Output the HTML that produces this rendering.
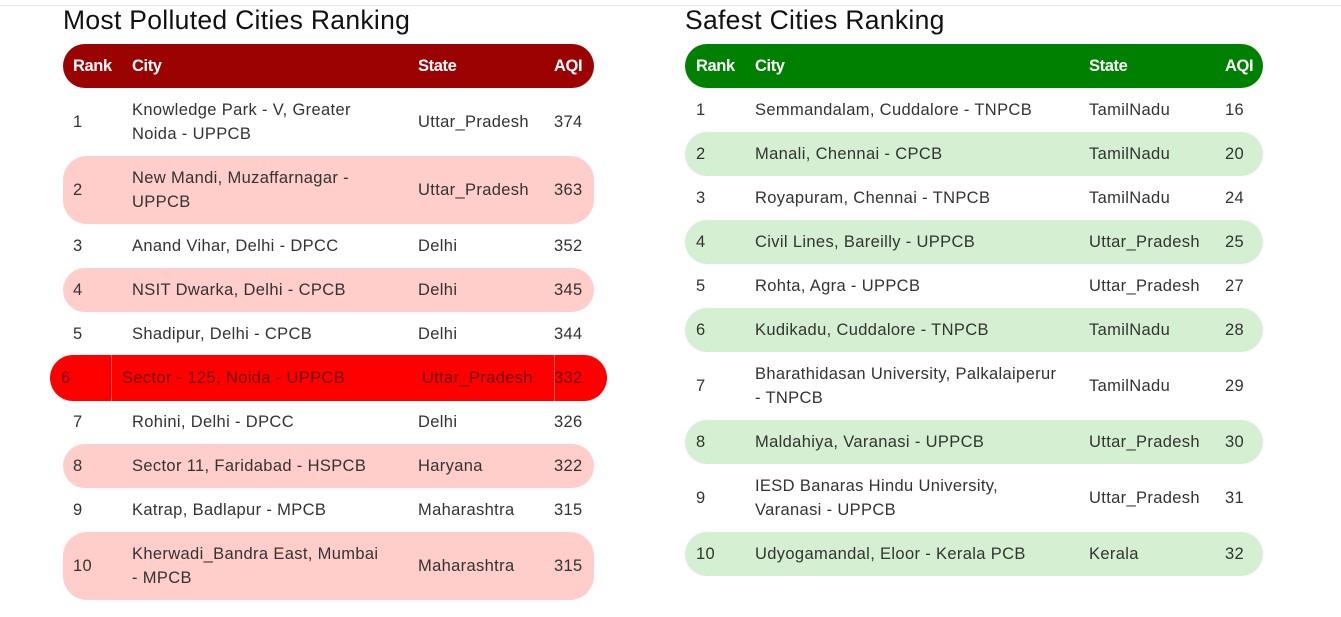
<!DOCTYPE html>
<html><head><meta charset="utf-8"><style>
body{margin:0;width:1341px;height:617px;background:#fff;position:relative;overflow:hidden;font-family:"Liberation Sans",sans-serif;color:#333}
.topline{position:absolute;left:0;top:5px;width:1341px;height:1px;background:#e6e6e6}
.title{position:absolute;top:5px;font-size:26.5px;color:#111;letter-spacing:0.3px}
.hdr{position:absolute;top:44px;height:44px;border-radius:22px;color:#fff;font-weight:bold;font-size:16.5px;letter-spacing:-0.4px}
.row{position:absolute;border-radius:22px;font-size:16.5px;letter-spacing:0.35px}
.c{position:absolute;top:50%;transform:translateY(-50%);line-height:24px;white-space:nowrap}
</style></head><body>
<div class="topline"></div>
<div class="title" style="left:63px">Most Polluted Cities Ranking</div>
<div class="title" style="left:685px">Safest Cities Ranking</div>
<div id="L"></div>
<div id="R"></div>
<script>
const pollutedCities=["Knowledge Park - V, Greater<br>Noida - UPPCB","New Mandi, Muzaffarnagar -<br>UPPCB","Anand Vihar, Delhi - DPCC","NSIT Dwarka, Delhi - CPCB","Shadipur, Delhi - CPCB","Sector - 125, Noida - UPPCB","Rohini, Delhi - DPCC","Sector 11, Faridabad - HSPCB","Katrap, Badlapur - MPCB","Kherwadi_Bandra East, Mumbai<br>- MPCB"];
const pollutedStates=["Uttar_Pradesh","Uttar_Pradesh","Delhi","Delhi","Delhi","Uttar_Pradesh","Delhi","Haryana","Maharashtra","Maharashtra"];
const pollutedAqi=[374,363,352,345,344,332,326,322,315,315];
const safeCities=["Semmandalam, Cuddalore - TNPCB","Manali, Chennai - CPCB","Royapuram, Chennai - TNPCB","Civil Lines, Bareilly - UPPCB","Rohta, Agra - UPPCB","Kudikadu, Cuddalore - TNPCB","Bharathidasan University, Palkalaiperur<br>- TNPCB","Maldahiya, Varanasi - UPPCB","IESD Banaras Hindu University,<br>Varanasi - UPPCB","Udyogamandal, Eloor - Kerala PCB"];
const safeStates=["TamilNadu","TamilNadu","TamilNadu","Uttar_Pradesh","Uttar_Pradesh","TamilNadu","TamilNadu","Uttar_Pradesh","Uttar_Pradesh","Kerala"];
const safeAqi=[16,20,24,25,27,28,29,30,31,32];

function build(host,x,w,cols,hdrColor,altColor,cities,states,aqi,highlight){
  const h=document.createElement('div');h.className='hdr';
  
  
  h.style.left=x+'px';h.style.width=w+'px';h.style.background=hdrColor;
  ['Rank','City','State','AQI'].forEach((t,i)=>{const s=document.createElement('div');s.className='c';s.style.left=(cols[i]-x)+'px';s.textContent=t;
    
    
    h.appendChild(s);});
  host.appendChild(h);
  let y=88;
  cities.forEach((c,i)=>{
    const two=c.includes('<br>');const rh=two?68:44;
    const r=document.createElement('div');r.className='row';
    
    
    let lx=x,lw=w,top=y,hh=rh;
    if(i===highlight){lx=x-13;lw=w+26;top=y-1;hh=rh+2;r.style.background='#ff0000';r.style.color='#6e0a0a';
      r.style.borderRadius='24px';}
    else if(i%2===1){r.style.background=altColor;if(two)r.style.borderRadius='24px';}
    r.style.left=lx+'px';r.style.width=lw+'px';r.style.top=top+'px';r.style.height=hh+'px';
    const vals=[i+1,c,states[i],aqi[i]];
    vals.forEach((v,j)=>{const s=document.createElement('div');s.className='c';
      let cx=cols[j]+(i===highlight?[-12,-10,4,0][j]:0);
      s.style.left=(cx-lx)+'px';s.innerHTML=v;
      
      
      r.appendChild(s);});
    if(i===highlight){[111,554].forEach(vx=>{const l=document.createElement('div');l.style.cssText='position:absolute;top:0;bottom:0;width:1px;background:rgba(255,255,255,0.35);left:'+(vx-lx)+'px';
      
      
      r.appendChild(l);});}
    host.appendChild(r);
    y+=rh;
  });
}
build(document.getElementById('L'),63,531,[73,132,418,554],'#9b0303','#ffcdca',pollutedCities,pollutedStates,pollutedAqi,5);
build(document.getElementById('R'),685,578,[696,755,1089,1225],'#008000','#d5efd2',safeCities,safeStates,safeAqi,-1);
</script>
</body></html>
